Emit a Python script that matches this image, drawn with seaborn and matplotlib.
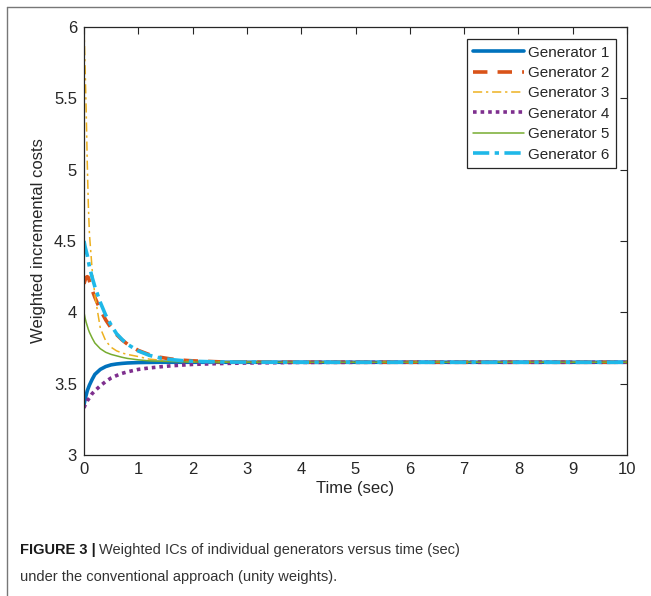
import numpy as np
import pandas as pd
import matplotlib
matplotlib.use("Agg")
import matplotlib.pyplot as plt
from matplotlib.lines import Line2D
import seaborn as sns

# ---- data ----
time = [0, 0.02, 0.04, 0.06, 0.08, 0.1, 0.15, 0.2, 0.3, 0.4, 0.5, 0.6, 0.7, 0.8,
        1.0, 1.2, 1.4, 1.6, 1.8, 2.0, 2.5, 3.0, 4.0, 6.0, 8.0, 10.0]
gen1 = [3.35, 3.39, 3.42, 3.45, 3.47, 3.49, 3.53, 3.565, 3.60, 3.62, 3.632, 3.638, 3.642, 3.645,
        3.648, 3.649, 3.65, 3.65, 3.65, 3.65, 3.65, 3.65, 3.65, 3.65, 3.65, 3.65]
gen2 = [4.20, 4.225, 4.245, 4.25, 4.245, 4.22, 4.156, 4.105, 4.018, 3.947, 3.89, 3.844, 3.807, 3.777,
        3.733, 3.704, 3.685, 3.673, 3.665, 3.66, 3.653, 3.651, 3.65, 3.65, 3.65, 3.65]
gen3 = [6.0, 5.72, 5.42, 5.05, 4.75, 4.55, 4.30, 4.12, 3.89, 3.80, 3.755, 3.73, 3.715, 3.705,
        3.69, 3.672, 3.665, 3.66, 3.656, 3.654, 3.651, 3.65, 3.65, 3.65, 3.65, 3.65]
gen4 = [3.33, 3.35, 3.365, 3.38, 3.39, 3.40, 3.43, 3.45, 3.485, 3.515, 3.54, 3.557, 3.572, 3.583,
        3.60, 3.61, 3.618, 3.625, 3.63, 3.635, 3.641, 3.645, 3.649, 3.65, 3.65, 3.65]
gen5 = [4.0, 3.96, 3.93, 3.905, 3.88, 3.86, 3.82, 3.785, 3.745, 3.72, 3.705, 3.695, 3.685, 3.677,
        3.667, 3.66, 3.657, 3.655, 3.653, 3.652, 3.651, 3.65, 3.65, 3.65, 3.65, 3.65]
gen6 = [4.50, 4.46, 4.43, 4.40, 4.36, 4.32, 4.245, 4.18, 4.07, 3.98, 3.91, 3.85, 3.81, 3.776,
        3.729, 3.699, 3.68, 3.669, 3.662, 3.657, 3.652, 3.651, 3.65, 3.65, 3.65, 3.65]

labels = ["Generator 1", "Generator 2", "Generator 3", "Generator 4", "Generator 5", "Generator 6"]
xticks = list(range(0, 11))
yticks = [3, 3.5, 4, 4.5, 5, 5.5, 6]
ytick_labels = ["3", "3.5", "4", "4.5", "5", "5.5", "6"]

# ---- styling ----
sns.set_theme(style="white")
plt.rcParams["font.family"] = ["Liberation Sans", "DejaVu Sans"]

colors = ["#0072BD", "#D95319", "#EDB120", "#7E2F8E", "#77AC30", "#1FB8E8"]
widths = [2.6, 2.6, 1.1, 2.6, 1.1, 2.6]
dashes = [None, (4, 2.8), (6, 2.5, 1.5, 2.5), (1, 1.1), None, (4.5, 1.5, 1.2, 1.5)]

fig = plt.figure(figsize=(6.51, 5.96), dpi=100)
ax = fig.add_axes([84 / 651, 1 - 455 / 596, (627 - 84) / 651, (455 - 27) / 596])

series = [gen1, gen2, gen3, gen4, gen5, gen6]
for vals, lab, c, lw, d in zip(series, labels, colors, widths, dashes):
    df = pd.DataFrame({"t": time, "v": vals})
    sns.lineplot(data=df, x="t", y="v", ax=ax, color=c, linewidth=lw, label=lab, sort=False)
    line = ax.get_lines()[-1]
    if d is not None:
        line.set_dashes(d)
    if lab == "Generator 4":
        line.set_dash_capstyle("butt")

ax.set_xlim(0, 10)
ax.set_ylim(3, 6)
ax.set_xticks(xticks)
ax.set_xticklabels([str(x) for x in xticks])
ax.set_yticks(yticks)
ax.set_yticklabels(ytick_labels)
ax.set_xlabel("Time (sec)", fontsize=12, color="#262626", labelpad=3)
ax.set_ylabel("Weighted incremental costs", fontsize=12, color="#262626", labelpad=6)
ax.tick_params(axis="both", which="both", direction="in", length=5, width=0.8,
               top=True, right=True, labelsize=12, colors="#262626", pad=5)
for s in ax.spines.values():
    s.set_visible(True)
    s.set_color("#262626")
    s.set_linewidth(0.9)

# rebuild legend handles with same styles
handles = []
for lab, c, lw, d in zip(labels, colors, widths, dashes):
    h = Line2D([0], [0], color=c, linewidth=lw)
    if d is not None:
        h.set_dashes(d)
    handles.append(h)
leg = ax.legend(handles, labels, loc="upper right", bbox_to_anchor=(0.985, 0.978),
                fontsize=11, frameon=True, fancybox=False, shadow=False,
                handlelength=3.3, handletextpad=0.3, borderpad=0.4, labelspacing=0.42,
                borderaxespad=0.2)
leg.get_frame().set_edgecolor("#262626")
leg.get_frame().set_linewidth(0.9)
leg.get_frame().set_alpha(1)

# page frame lines (left and top)
fig.add_artist(Line2D([7 / 651, 7 / 651], [1 - 7 / 596, 0], transform=fig.transFigure,
                      color="#777777", linewidth=1.0))
fig.add_artist(Line2D([7 / 651, 1], [1 - 7 / 596, 1 - 7 / 596], transform=fig.transFigure,
                      color="#777777", linewidth=1.0))

# caption
cap_font = ["Liberation Sans", "DejaVu Sans"]
t1 = fig.text(20 / 651, 1 - 550 / 596, "FIGURE 3 |", fontsize=10.5, fontweight="bold",
              family=cap_font, va="center", ha="left", color="#1a1a1a")
fig.canvas.draw()
bb = t1.get_window_extent(renderer=fig.canvas.get_renderer())
x_next = (bb.x1 + 3) / fig.bbox.width
fig.text(x_next, 1 - 550 / 596, "Weighted ICs of individual generators versus time (sec)",
         fontsize=10.5, family=cap_font, va="center", ha="left", color="#333333")
fig.text(20 / 651, 1 - 577 / 596, "under the conventional approach (unity weights).",
         fontsize=10.5, family=cap_font, va="center", ha="left", color="#333333")

fig.savefig("out.png", dpi=100)
